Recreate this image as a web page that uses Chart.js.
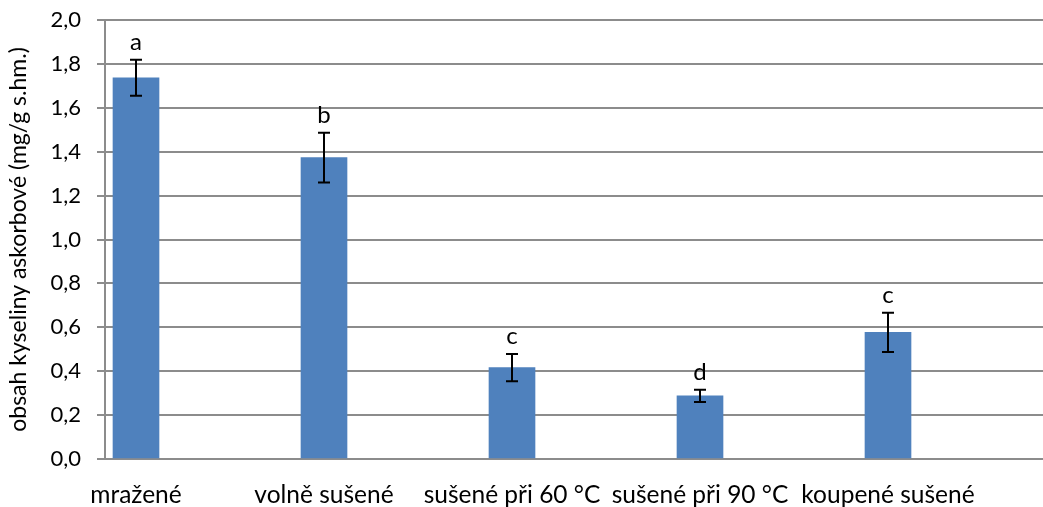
<!DOCTYPE html>
<html>
<head>
<meta charset="utf-8">
<script src="https://cdn.jsdelivr.net/npm/chart.js@4/dist/chart.umd.min.js"></script>
<style>
html,body{margin:0;padding:0;background:#fff;}
#wrap{width:1043px;height:507px;position:relative;}
</style>
</head>
<body>
<div id="wrap"><canvas id="c" width="1043" height="507"></canvas></div>
<script>
const categories = ["mražené", "volně sušené", "sušené při 60 °C", "sušené při 90 °C", "koupené sušené"];
const values = [1.737, 1.373, 0.416, 0.288, 0.577];
const errors = [0.082, 0.113, 0.062, 0.028, 0.089];
const letters = ["a", "b", "c", "d", "c"];
const yTicks = [0, 0.2, 0.4, 0.6, 0.8, 1.0, 1.2, 1.4, 1.6, 1.8, 2.0];

const FONT = "Lato, 'Open Sans', sans-serif";

const errPlugin = {
  id: 'errbars',
  afterDatasetsDraw(chart) {
    const ctx = chart.ctx;
    const xs = chart.scales.x, ys = chart.scales.y;
    ctx.save();
    ctx.strokeStyle = '#000';
    ctx.lineWidth = 2;
    ctx.fillStyle = '#000';
    ctx.font = "24px " + FONT;
    ctx.textAlign = 'center';
    ctx.textBaseline = 'alphabetic';
    values.forEach((v, i) => {
      const x = Math.round(xs.getPixelForValue(i));
      const yt = ys.getPixelForValue(v + errors[i]);
      const yb = ys.getPixelForValue(v - errors[i]);
      ctx.beginPath();
      ctx.moveTo(x, yt); ctx.lineTo(x, yb);
      ctx.moveTo(x - 6, yt); ctx.lineTo(x + 6, yt);
      ctx.moveTo(x - 6, yb); ctx.lineTo(x + 6, yb);
      ctx.stroke();
      ctx.fillText(letters[i], x, yt - 10);
    });
    ctx.restore();
  }
};

new Chart(document.getElementById('c'), {
  type: 'bar',
  data: {
    datasets: [{
      data: values.map((v, i) => ({x: i, y: v})),
      backgroundColor: '#4F81BD',
      borderWidth: 0,
      barThickness: 46
    }]
  },
  options: {
    responsive: false,
    animation: false,
    devicePixelRatio: 1,
    layout: {padding: {top: 20, right: 0, left: 0, bottom: 0}},
    plugins: {legend: {display: false}, tooltip: {enabled: false}},
    scales: {
      x: {
        type: 'linear',
        offset: false,
        min: -31 / 188,
        max: (1043 - 136) / 188,
        grid: {display: false, offset: false},
        border: {display: false},
        afterBuildTicks(scale) { scale.ticks = categories.map((c, i) => ({value: i})); },
        afterFit(scale) { scale.height = 48; scale.paddingLeft = 0; scale.paddingRight = 0; },
        ticks: {
          autoSkip: false,
          maxRotation: 0,
          padding: 13,
          color: '#000',
          font: {family: FONT, size: 24.5},
          callback: (v) => categories[v] !== undefined ? categories[v] : ''
        }
      },
      y: {
        min: 0,
        max: 2.0,
        afterBuildTicks(scale) { scale.ticks = yTicks.map(v => ({value: v})); },
        afterFit(scale) { scale.width = 105; scale.paddingTop = 0; scale.paddingBottom = 0; },
        grid: {color: '#8c8c8c', lineWidth: 2, tickLength: 8, drawTicks: true},
        border: {display: true, color: '#8c8c8c', width: 2},
        ticks: {
          padding: 16,
          color: '#000',
          font: {family: FONT, size: 22},
          callback: (v) => v.toFixed(1).replace('.', ',')
        },
        title: {
          display: true,
          text: 'obsah kyseliny askorbové (mg/g s.hm.)',
          color: '#000',
          font: {family: FONT, size: 23},
          padding: {top: 5, bottom: 0}
        }
      }
    }
  },
  plugins: [errPlugin]
});
</script>
</body>
</html>
